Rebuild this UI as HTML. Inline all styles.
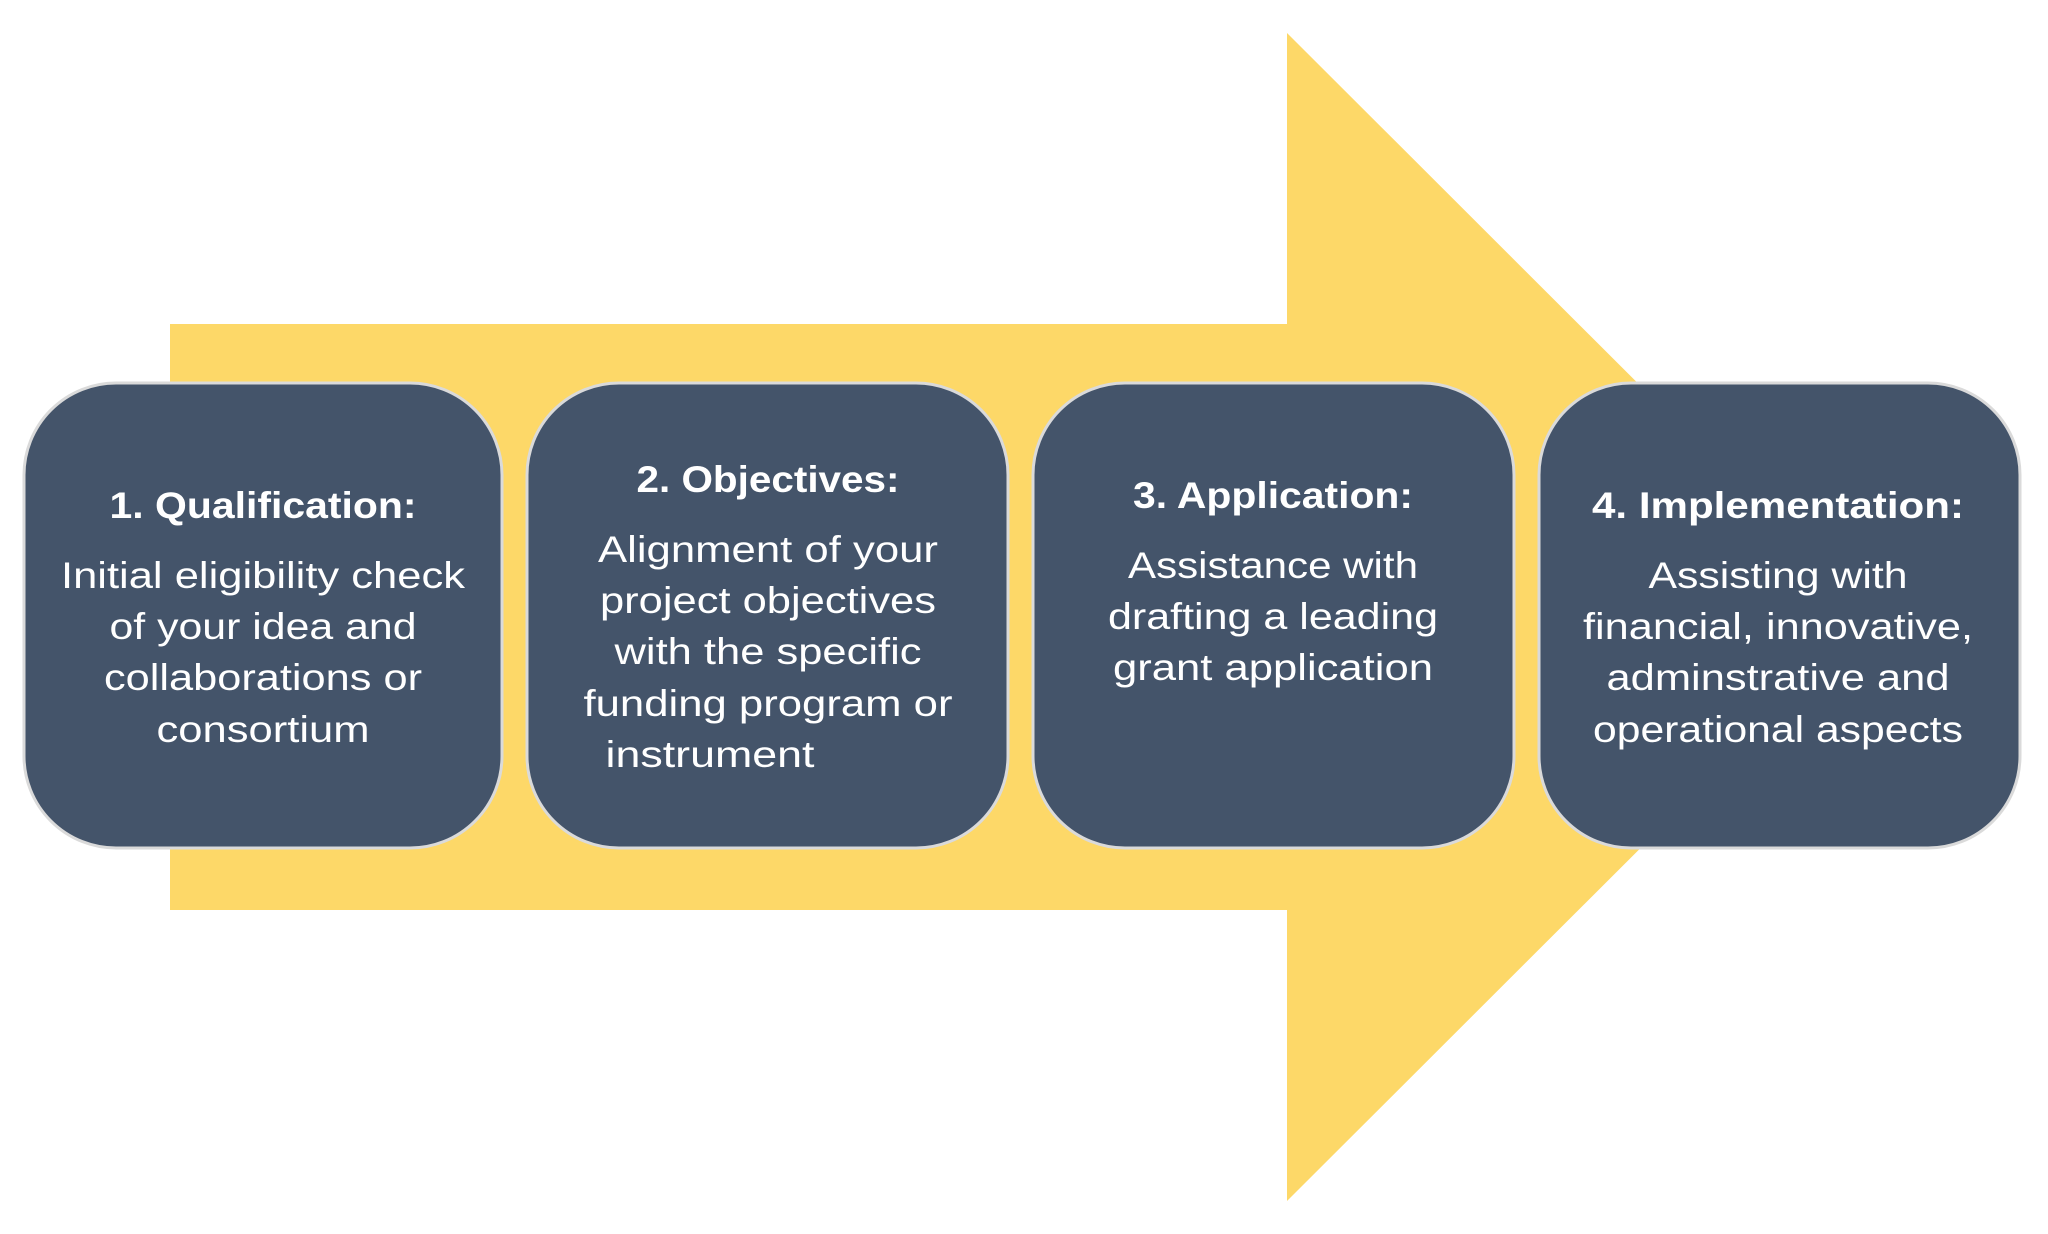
<!DOCTYPE html>
<html><head><meta charset="utf-8"><style>
html,body{margin:0;padding:0;background:#fff;}
svg{display:block;}
text{font-family:"Liberation Sans",sans-serif;fill:#fff;}
.t{font-weight:bold;font-size:37px;}
.b{font-size:37px;}
</style></head><body>
<svg width="2048" height="1234" viewBox="0 0 2048 1234" xmlns="http://www.w3.org/2000/svg">
<polygon points="170,324 1287,324 1287,33 1872,617 1287,1201 1287,910 170,910" fill="#FDD868"/>
<g fill="#44546A" stroke="#DADADA" stroke-width="3">
<rect x="24" y="383" width="478" height="465" rx="92" ry="92"/>
<rect x="527" y="383" width="481" height="465" rx="92" ry="92"/>
<rect x="1033" y="383" width="481" height="465" rx="92" ry="92"/>
<rect x="1539" y="383" width="481" height="465" rx="92" ry="92"/>
</g>
<g text-anchor="middle">
<text class="t" x="263" y="518" textLength="307" lengthAdjust="spacingAndGlyphs">1. Qualification:</text>
<text class="b" x="263" y="588" textLength="404" lengthAdjust="spacingAndGlyphs">Initial eligibility check</text>
<text class="b" x="263" y="639" textLength="307" lengthAdjust="spacingAndGlyphs">of your idea and</text>
<text class="b" x="263" y="690" textLength="318" lengthAdjust="spacingAndGlyphs">collaborations or</text>
<text class="b" x="263" y="742" textLength="213" lengthAdjust="spacingAndGlyphs">consortium</text>

<text class="t" x="768" y="492" textLength="263" lengthAdjust="spacingAndGlyphs">2. Objectives:</text>
<text class="b" x="768" y="562" textLength="340" lengthAdjust="spacingAndGlyphs">Alignment of your</text>
<text class="b" x="768" y="613" textLength="336" lengthAdjust="spacingAndGlyphs">project objectives</text>
<text class="b" x="768" y="664" textLength="307" lengthAdjust="spacingAndGlyphs">with the specific</text>
<text class="b" x="768" y="716" textLength="369" lengthAdjust="spacingAndGlyphs">funding program or</text>
<text class="b" x="710" y="767" textLength="209" lengthAdjust="spacingAndGlyphs">instrument</text>

<text class="t" x="1273" y="508" textLength="280" lengthAdjust="spacingAndGlyphs">3. Application:</text>
<text class="b" x="1273" y="578" textLength="290" lengthAdjust="spacingAndGlyphs">Assistance with</text>
<text class="b" x="1273" y="629" textLength="330" lengthAdjust="spacingAndGlyphs">drafting a leading</text>
<text class="b" x="1273" y="680" textLength="320" lengthAdjust="spacingAndGlyphs">grant application</text>

<text class="t" x="1778" y="518" textLength="372" lengthAdjust="spacingAndGlyphs">4. Implementation:</text>
<text class="b" x="1778" y="588" textLength="259" lengthAdjust="spacingAndGlyphs">Assisting with</text>
<text class="b" x="1778" y="639" textLength="390" lengthAdjust="spacingAndGlyphs">financial, innovative,</text>
<text class="b" x="1778" y="690" textLength="343" lengthAdjust="spacingAndGlyphs">adminstrative and</text>
<text class="b" x="1778" y="742" textLength="370" lengthAdjust="spacingAndGlyphs">operational aspects</text>
</g>
</svg>
</body></html>
